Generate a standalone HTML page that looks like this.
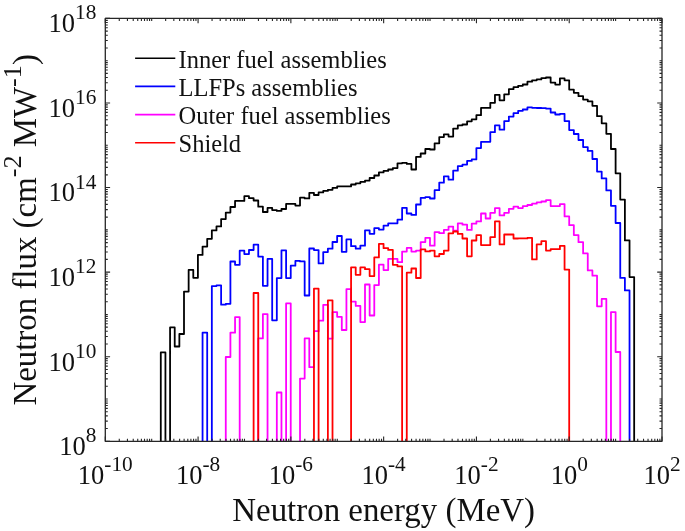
<!DOCTYPE html>
<html><head><meta charset="utf-8"><style>
html,body{margin:0;padding:0;background:#fff;width:685px;height:531px;overflow:hidden;font-family:"Liberation Serif",serif}
svg{display:block;will-change:transform}
</style></head><body>
<svg width="685" height="531" viewBox="0 0 685 531">
<rect width="685" height="531" fill="#fff"/>
<defs><clipPath id="c"><rect x="105.30" y="18.40" width="556.70" height="422.90"/></clipPath></defs>
<g clip-path="url(#c)" fill="none" stroke-width="1.80" stroke-linejoin="round" stroke-linecap="butt">
<path d="M160.79 450.00L160.79 352.40L165.43 352.40L165.43 450.00L170.07 450.00L170.07 327.40L174.72 327.40L174.72 346.50L179.36 346.50L179.36 334.00L184.00 334.00L184.00 291.60L188.64 291.60L188.64 269.90L193.28 269.90L193.28 277.80L197.92 277.80L197.92 254.90L202.56 254.90L202.56 246.60L207.20 246.60L207.20 238.80L211.84 238.80L211.84 230.40L216.48 230.40L216.48 226.40L221.13 226.40L221.13 219.10L225.77 219.10L225.77 212.60L230.41 212.60L230.41 207.00L235.05 207.00L235.05 200.90L239.69 200.90L239.69 200.90L244.33 200.90L244.33 196.20L248.97 196.20L248.97 198.20L253.61 198.20L253.61 200.50L258.25 200.50L258.25 206.70L262.89 206.70L262.89 212.00L267.54 212.00L267.54 207.90L272.18 207.90L272.18 210.10L276.82 210.10L276.82 210.90L281.46 210.90L281.46 209.00L286.10 209.00L286.10 203.90L290.74 203.90L290.74 203.90L295.38 203.90L295.38 205.60L300.02 205.60L300.02 197.70L304.66 197.70L304.66 198.40L309.30 198.40L309.30 192.80L313.95 192.80L313.95 195.00L318.59 195.00L318.59 192.40L323.23 192.40L323.23 190.90L327.87 190.90L327.87 189.80L332.51 189.80L332.51 187.90L337.15 187.90L337.15 186.40L341.79 186.40L341.79 186.40L346.43 186.40L346.43 186.40L351.07 186.40L351.07 184.50L355.71 184.50L355.71 183.30L360.36 183.30L360.36 181.90L365.00 181.90L365.00 180.60L369.64 180.60L369.64 178.00L374.28 178.00L374.28 175.50L378.92 175.50L378.92 172.40L383.56 172.40L383.56 170.90L388.20 170.90L388.20 169.50L392.84 169.50L392.84 168.10L397.48 168.10L397.48 163.30L402.12 163.30L402.12 162.80L406.77 162.80L406.77 163.90L411.41 163.90L411.41 169.50L416.05 169.50L416.05 156.90L420.69 156.90L420.69 153.50L425.33 153.50L425.33 149.00L429.97 149.00L429.97 149.50L434.61 149.50L434.61 143.30L439.25 143.30L439.25 137.10L443.89 137.10L443.89 134.30L448.53 134.30L448.53 136.60L453.18 136.60L453.18 128.60L457.82 128.60L457.82 125.30L462.46 125.30L462.46 124.50L467.10 124.50L467.10 121.30L471.74 121.30L471.74 119.30L476.38 119.30L476.38 115.20L481.02 115.20L481.02 107.90L485.66 107.90L485.66 107.90L490.30 107.90L490.30 102.80L494.94 102.80L494.94 94.90L499.59 94.90L499.59 100.30L504.23 100.30L504.23 94.30L508.87 94.30L508.87 89.20L513.51 89.20L513.51 87.20L518.15 87.20L518.15 85.80L522.79 85.80L522.79 84.50L527.43 84.50L527.43 81.70L532.07 81.70L532.07 80.30L536.71 80.30L536.71 79.40L541.35 79.40L541.35 78.10L546.00 78.10L546.00 77.50L550.64 77.50L550.64 82.60L555.28 82.60L555.28 84.60L559.92 84.60L559.92 78.30L564.56 78.30L564.56 80.30L569.20 80.30L569.20 89.60L573.84 89.60L573.84 92.80L578.48 92.80L578.48 96.20L583.12 96.20L583.12 99.60L587.76 99.60L587.76 101.30L592.41 101.30L592.41 105.80L597.05 105.80L597.05 116.20L601.69 116.20L601.69 123.30L606.33 123.30L606.33 133.80L610.97 133.80L610.97 149.00L615.61 149.00L615.61 173.30L620.25 173.30L620.25 199.60L624.89 199.60L624.89 240.40L629.53 240.40L629.53 277.10L634.17 277.10L634.17 450.00" stroke="#000000"/>
<path d="M202.56 450.00L202.56 332.70L207.20 332.70L207.20 450.00L211.84 450.00L211.84 286.10L216.48 286.10L216.48 285.40L221.13 285.40L221.13 304.70L225.77 304.70L225.77 303.80L230.41 303.80L230.41 261.50L235.05 261.50L235.05 264.80L239.69 264.80L239.69 250.70L244.33 250.70L244.33 254.10L248.97 254.10L248.97 250.00L253.61 250.00L253.61 244.70L258.25 244.70L258.25 256.60L262.89 256.60L262.89 285.80L267.54 285.80L267.54 258.90L272.18 258.90L272.18 320.30L276.82 320.30L276.82 278.10L281.46 278.10L281.46 250.40L286.10 250.40L286.10 278.10L290.74 278.10L290.74 265.70L295.38 265.70L295.38 260.90L300.02 260.90L300.02 261.40L304.66 261.40L304.66 295.50L309.30 295.50L309.30 248.50L313.95 248.50L313.95 250.10L318.59 250.10L318.59 263.40L323.23 263.40L323.23 252.10L327.87 252.10L327.87 248.70L332.51 248.70L332.51 242.00L337.15 242.00L337.15 236.00L341.79 236.00L341.79 251.80L346.43 251.80L346.43 239.40L351.07 239.40L351.07 246.20L355.71 246.20L355.71 248.70L360.36 248.70L360.36 245.70L365.00 245.70L365.00 230.30L369.64 230.30L369.64 233.80L374.28 233.80L374.28 228.20L378.92 228.20L378.92 229.60L383.56 229.60L383.56 225.60L388.20 225.60L388.20 223.30L392.84 223.30L392.84 223.30L397.48 223.30L397.48 219.70L402.12 219.70L402.12 207.80L406.77 207.80L406.77 213.50L411.41 213.50L411.41 214.90L416.05 214.90L416.05 204.50L420.69 204.50L420.69 197.80L425.33 197.80L425.33 197.20L429.97 197.20L429.97 198.50L434.61 198.50L434.61 190.20L439.25 190.20L439.25 182.70L443.89 182.70L443.89 176.40L448.53 176.40L448.53 179.70L453.18 179.70L453.18 170.70L457.82 170.70L457.82 166.10L462.46 166.10L462.46 164.60L467.10 164.60L467.10 160.90L471.74 160.90L471.74 159.40L476.38 159.40L476.38 148.10L481.02 148.10L481.02 141.80L485.66 141.80L485.66 141.80L490.30 141.80L490.30 132.20L494.94 132.20L494.94 125.40L499.59 125.40L499.59 129.70L504.23 129.70L504.23 121.10L508.87 121.10L508.87 116.60L513.51 116.60L513.51 113.20L518.15 113.20L518.15 110.80L522.79 110.80L522.79 109.50L527.43 109.50L527.43 107.30L532.07 107.30L532.07 107.80L536.71 107.80L536.71 108.00L541.35 108.00L541.35 108.20L546.00 108.20L546.00 108.60L550.64 108.60L550.64 112.50L555.28 112.50L555.28 114.50L559.92 114.50L559.92 113.80L564.56 113.80L564.56 121.10L569.20 121.10L569.20 130.10L573.84 130.10L573.84 134.00L578.48 134.00L578.48 140.00L583.12 140.00L583.12 147.10L587.76 147.10L587.76 150.90L592.41 150.90L592.41 159.00L597.05 159.00L597.05 171.60L601.69 171.60L601.69 178.40L606.33 178.40L606.33 190.40L610.97 190.40L610.97 205.80L615.61 205.80L615.61 223.00L620.25 223.00L620.25 277.90L624.89 277.90L624.89 290.40L629.53 290.40L629.53 450.00" stroke="#0000ff"/>
<path d="M225.77 450.00L225.77 357.00L230.41 357.00L230.41 332.70L235.05 332.70L235.05 317.10L239.69 317.10L239.69 450.00L244.33 450.00L244.33 450.00L248.97 450.00L248.97 450.00L253.61 450.00L253.61 450.00L258.25 450.00L258.25 338.40L262.89 338.40L262.89 314.10L267.54 314.10L267.54 450.00L272.18 450.00L272.18 450.00L276.82 450.00L276.82 392.50L281.46 392.50L281.46 450.00L286.10 450.00L286.10 303.40L290.74 303.40L290.74 450.00L295.38 450.00L295.38 450.00L300.02 450.00L300.02 378.60L304.66 378.60L304.66 338.40L309.30 338.40L309.30 367.20L313.95 367.20L313.95 331.20L318.59 331.20L318.59 320.70L323.23 320.70L323.23 304.80L327.87 304.80L327.87 338.70L332.51 338.70L332.51 312.20L337.15 312.20L337.15 316.80L341.79 316.80L341.79 330.00L346.43 330.00L346.43 289.10L351.07 289.10L351.07 301.60L355.71 301.60L355.71 305.90L360.36 305.90L360.36 322.10L365.00 322.10L365.00 284.50L369.64 284.50L369.64 315.50L374.28 315.50L374.28 285.10L378.92 285.10L378.92 264.70L383.56 264.70L383.56 270.10L388.20 270.10L388.20 258.90L392.84 258.90L392.84 258.90L397.48 258.90L397.48 262.20L402.12 262.20L402.12 251.60L406.77 251.60L406.77 247.90L411.41 247.90L411.41 251.60L416.05 251.60L416.05 250.60L420.69 250.60L420.69 242.10L425.33 242.10L425.33 237.80L429.97 237.80L429.97 245.70L434.61 245.70L434.61 232.10L439.25 232.10L439.25 233.20L443.89 233.20L443.89 229.90L448.53 229.90L448.53 226.60L453.18 226.60L453.18 230.60L457.82 230.60L457.82 223.30L462.46 223.30L462.46 224.70L467.10 224.70L467.10 229.90L471.74 229.90L471.74 223.70L476.38 223.70L476.38 221.40L481.02 221.40L481.02 213.50L485.66 213.50L485.66 218.50L490.30 218.50L490.30 212.80L494.94 212.80L494.94 208.20L499.59 208.20L499.59 215.40L504.23 215.40L504.23 212.80L508.87 212.80L508.87 208.80L513.51 208.80L513.51 206.70L518.15 206.70L518.15 208.10L522.79 208.10L522.79 206.10L527.43 206.10L527.43 205.00L532.07 205.00L532.07 203.70L536.71 203.70L536.71 202.40L541.35 202.40L541.35 201.50L546.00 201.50L546.00 200.20L550.64 200.20L550.64 206.10L555.28 206.10L555.28 206.10L559.92 206.10L559.92 204.10L564.56 204.10L564.56 216.40L569.20 216.40L569.20 225.20L573.84 225.20L573.84 235.10L578.48 235.10L578.48 242.20L583.12 242.20L583.12 253.40L587.76 253.40L587.76 270.40L592.41 270.40L592.41 275.70L597.05 275.70L597.05 306.30L601.69 306.30L601.69 298.90L606.33 298.90L606.33 450.00L610.97 450.00L610.97 312.10L615.61 312.10L615.61 352.00L620.25 352.00L620.25 450.00" stroke="#ff00ff"/>
<path d="M253.61 450.00L253.61 293.00L258.25 293.00L258.25 450.00L262.89 450.00L262.89 450.00L267.54 450.00L267.54 450.00L272.18 450.00L272.18 450.00L276.82 450.00L276.82 450.00L281.46 450.00L281.46 450.00L286.10 450.00L286.10 450.00L290.74 450.00L290.74 450.00L295.38 450.00L295.38 450.00L300.02 450.00L300.02 450.00L304.66 450.00L304.66 450.00L309.30 450.00L309.30 450.00L313.95 450.00L313.95 288.70L318.59 288.70L318.59 450.00L323.23 450.00L323.23 450.00L327.87 450.00L327.87 300.30L332.51 300.30L332.51 450.00L337.15 450.00L337.15 450.00L341.79 450.00L341.79 450.00L346.43 450.00L346.43 450.00L351.07 450.00L351.07 267.30L355.71 267.30L355.71 274.80L360.36 274.80L360.36 267.40L365.00 267.40L365.00 269.20L369.64 269.20L369.64 276.10L374.28 276.10L374.28 257.40L378.92 257.40L378.92 243.80L383.56 243.80L383.56 248.20L388.20 248.20L388.20 249.90L392.84 249.90L392.84 264.80L397.48 264.80L397.48 266.40L402.12 266.40L402.12 450.00L406.77 450.00L406.77 272.70L411.41 272.70L411.41 268.50L416.05 268.50L416.05 278.00L420.69 278.00L420.69 249.30L425.33 249.30L425.33 251.40L429.97 251.40L429.97 250.60L434.61 250.60L434.61 256.30L439.25 256.30L439.25 254.00L443.89 254.00L443.89 250.60L448.53 250.60L448.53 233.30L453.18 233.30L453.18 231.50L457.82 231.50L457.82 233.90L462.46 233.90L462.46 238.50L467.10 238.50L467.10 256.30L471.74 256.30L471.74 240.50L476.38 240.50L476.38 235.20L481.02 235.20L481.02 245.10L485.66 245.10L485.66 245.10L490.30 245.10L490.30 237.20L494.94 237.20L494.94 221.40L499.59 221.40L499.59 244.40L504.23 244.40L504.23 234.50L508.87 234.50L508.87 234.50L513.51 234.50L513.51 238.50L518.15 238.50L518.15 238.40L522.79 238.40L522.79 238.40L527.43 238.40L527.43 237.80L532.07 237.80L532.07 259.40L536.71 259.40L536.71 244.30L541.35 244.30L541.35 241.20L546.00 241.20L546.00 250.60L550.64 250.60L550.64 249.20L555.28 249.20L555.28 249.20L559.92 249.20L559.92 245.80L564.56 245.80L564.56 269.60L569.20 269.60L569.20 450.00" stroke="#ff0000"/>
</g>
<path d="M105.30 441.30V436.50M105.30 18.40V23.20M119.27 441.30V438.80M119.27 18.40V20.90M127.43 441.30V438.80M127.43 18.40V20.90M133.23 441.30V438.80M133.23 18.40V20.90M137.73 441.30V438.80M137.73 18.40V20.90M141.40 441.30V438.80M141.40 18.40V20.90M144.51 441.30V438.80M144.51 18.40V20.90M147.20 441.30V438.80M147.20 18.40V20.90M149.57 441.30V438.80M149.57 18.40V20.90M151.69 441.30V438.80M151.69 18.40V20.90M165.66 441.30V438.80M165.66 18.40V20.90M173.83 441.30V438.80M173.83 18.40V20.90M179.62 441.30V438.80M179.62 18.40V20.90M184.12 441.30V438.80M184.12 18.40V20.90M187.79 441.30V438.80M187.79 18.40V20.90M190.90 441.30V438.80M190.90 18.40V20.90M193.59 441.30V438.80M193.59 18.40V20.90M195.96 441.30V438.80M195.96 18.40V20.90M198.08 441.30V436.50M198.08 18.40V23.20M212.05 441.30V438.80M212.05 18.40V20.90M220.22 441.30V438.80M220.22 18.40V20.90M226.01 441.30V438.80M226.01 18.40V20.90M230.51 441.30V438.80M230.51 18.40V20.90M234.18 441.30V438.80M234.18 18.40V20.90M237.29 441.30V438.80M237.29 18.40V20.90M239.98 441.30V438.80M239.98 18.40V20.90M242.35 441.30V438.80M242.35 18.40V20.90M244.48 441.30V438.80M244.48 18.40V20.90M258.44 441.30V438.80M258.44 18.40V20.90M266.61 441.30V438.80M266.61 18.40V20.90M272.41 441.30V438.80M272.41 18.40V20.90M276.90 441.30V438.80M276.90 18.40V20.90M280.57 441.30V438.80M280.57 18.40V20.90M283.68 441.30V438.80M283.68 18.40V20.90M286.37 441.30V438.80M286.37 18.40V20.90M288.74 441.30V438.80M288.74 18.40V20.90M290.87 441.30V436.50M290.87 18.40V23.20M304.83 441.30V438.80M304.83 18.40V20.90M313.00 441.30V438.80M313.00 18.40V20.90M318.80 441.30V438.80M318.80 18.40V20.90M323.29 441.30V438.80M323.29 18.40V20.90M326.97 441.30V438.80M326.97 18.40V20.90M330.07 441.30V438.80M330.07 18.40V20.90M332.76 441.30V438.80M332.76 18.40V20.90M335.14 441.30V438.80M335.14 18.40V20.90M337.26 441.30V438.80M337.26 18.40V20.90M351.22 441.30V438.80M351.22 18.40V20.90M359.39 441.30V438.80M359.39 18.40V20.90M365.19 441.30V438.80M365.19 18.40V20.90M369.68 441.30V438.80M369.68 18.40V20.90M373.36 441.30V438.80M373.36 18.40V20.90M376.46 441.30V438.80M376.46 18.40V20.90M379.15 441.30V438.80M379.15 18.40V20.90M381.53 441.30V438.80M381.53 18.40V20.90M383.65 441.30V436.50M383.65 18.40V23.20M397.62 441.30V438.80M397.62 18.40V20.90M405.78 441.30V438.80M405.78 18.40V20.90M411.58 441.30V438.80M411.58 18.40V20.90M416.08 441.30V438.80M416.08 18.40V20.90M419.75 441.30V438.80M419.75 18.40V20.90M422.86 441.30V438.80M422.86 18.40V20.90M425.55 441.30V438.80M425.55 18.40V20.90M427.92 441.30V438.80M427.92 18.40V20.90M430.04 441.30V438.80M430.04 18.40V20.90M444.01 441.30V438.80M444.01 18.40V20.90M452.18 441.30V438.80M452.18 18.40V20.90M457.97 441.30V438.80M457.97 18.40V20.90M462.47 441.30V438.80M462.47 18.40V20.90M466.14 441.30V438.80M466.14 18.40V20.90M469.25 441.30V438.80M469.25 18.40V20.90M471.94 441.30V438.80M471.94 18.40V20.90M474.31 441.30V438.80M474.31 18.40V20.90M476.43 441.30V436.50M476.43 18.40V23.20M490.40 441.30V438.80M490.40 18.40V20.90M498.57 441.30V438.80M498.57 18.40V20.90M504.36 441.30V438.80M504.36 18.40V20.90M508.86 441.30V438.80M508.86 18.40V20.90M512.53 441.30V438.80M512.53 18.40V20.90M515.64 441.30V438.80M515.64 18.40V20.90M518.33 441.30V438.80M518.33 18.40V20.90M520.70 441.30V438.80M520.70 18.40V20.90M522.83 441.30V438.80M522.83 18.40V20.90M536.79 441.30V438.80M536.79 18.40V20.90M544.96 441.30V438.80M544.96 18.40V20.90M550.76 441.30V438.80M550.76 18.40V20.90M555.25 441.30V438.80M555.25 18.40V20.90M558.92 441.30V438.80M558.92 18.40V20.90M562.03 441.30V438.80M562.03 18.40V20.90M564.72 441.30V438.80M564.72 18.40V20.90M567.09 441.30V438.80M567.09 18.40V20.90M569.22 441.30V436.50M569.22 18.40V23.20M583.18 441.30V438.80M583.18 18.40V20.90M591.35 441.30V438.80M591.35 18.40V20.90M597.15 441.30V438.80M597.15 18.40V20.90M601.64 441.30V438.80M601.64 18.40V20.90M605.32 441.30V438.80M605.32 18.40V20.90M608.42 441.30V438.80M608.42 18.40V20.90M611.11 441.30V438.80M611.11 18.40V20.90M613.49 441.30V438.80M613.49 18.40V20.90M615.61 441.30V438.80M615.61 18.40V20.90M629.57 441.30V438.80M629.57 18.40V20.90M637.74 441.30V438.80M637.74 18.40V20.90M643.54 441.30V438.80M643.54 18.40V20.90M648.03 441.30V438.80M648.03 18.40V20.90M651.71 441.30V438.80M651.71 18.40V20.90M654.81 441.30V438.80M654.81 18.40V20.90M657.50 441.30V438.80M657.50 18.40V20.90M659.88 441.30V438.80M659.88 18.40V20.90M662.00 441.30V436.50M662.00 18.40V23.20M105.30 441.30H110.10M662.00 441.30H657.20M105.30 428.57H107.80M662.00 428.57H659.50M105.30 421.12H107.80M662.00 421.12H659.50M105.30 415.84H107.80M662.00 415.84H659.50M105.30 411.74H107.80M662.00 411.74H659.50M105.30 408.39H107.80M662.00 408.39H659.50M105.30 405.56H107.80M662.00 405.56H659.50M105.30 403.11H107.80M662.00 403.11H659.50M105.30 400.95H107.80M662.00 400.95H659.50M105.30 399.01H107.80M662.00 399.01H659.50M105.30 386.28H107.80M662.00 386.28H659.50M105.30 378.83H107.80M662.00 378.83H659.50M105.30 373.55H107.80M662.00 373.55H659.50M105.30 369.45H107.80M662.00 369.45H659.50M105.30 366.10H107.80M662.00 366.10H659.50M105.30 363.27H107.80M662.00 363.27H659.50M105.30 360.82H107.80M662.00 360.82H659.50M105.30 358.66H107.80M662.00 358.66H659.50M105.30 356.72H110.10M662.00 356.72H657.20M105.30 343.99H107.80M662.00 343.99H659.50M105.30 336.54H107.80M662.00 336.54H659.50M105.30 331.26H107.80M662.00 331.26H659.50M105.30 327.16H107.80M662.00 327.16H659.50M105.30 323.81H107.80M662.00 323.81H659.50M105.30 320.98H107.80M662.00 320.98H659.50M105.30 318.53H107.80M662.00 318.53H659.50M105.30 316.37H107.80M662.00 316.37H659.50M105.30 314.43H107.80M662.00 314.43H659.50M105.30 301.70H107.80M662.00 301.70H659.50M105.30 294.25H107.80M662.00 294.25H659.50M105.30 288.97H107.80M662.00 288.97H659.50M105.30 284.87H107.80M662.00 284.87H659.50M105.30 281.52H107.80M662.00 281.52H659.50M105.30 278.69H107.80M662.00 278.69H659.50M105.30 276.24H107.80M662.00 276.24H659.50M105.30 274.08H107.80M662.00 274.08H659.50M105.30 272.14H110.10M662.00 272.14H657.20M105.30 259.41H107.80M662.00 259.41H659.50M105.30 251.96H107.80M662.00 251.96H659.50M105.30 246.68H107.80M662.00 246.68H659.50M105.30 242.58H107.80M662.00 242.58H659.50M105.30 239.23H107.80M662.00 239.23H659.50M105.30 236.40H107.80M662.00 236.40H659.50M105.30 233.95H107.80M662.00 233.95H659.50M105.30 231.79H107.80M662.00 231.79H659.50M105.30 229.85H107.80M662.00 229.85H659.50M105.30 217.12H107.80M662.00 217.12H659.50M105.30 209.67H107.80M662.00 209.67H659.50M105.30 204.39H107.80M662.00 204.39H659.50M105.30 200.29H107.80M662.00 200.29H659.50M105.30 196.94H107.80M662.00 196.94H659.50M105.30 194.11H107.80M662.00 194.11H659.50M105.30 191.66H107.80M662.00 191.66H659.50M105.30 189.50H107.80M662.00 189.50H659.50M105.30 187.56H110.10M662.00 187.56H657.20M105.30 174.83H107.80M662.00 174.83H659.50M105.30 167.38H107.80M662.00 167.38H659.50M105.30 162.10H107.80M662.00 162.10H659.50M105.30 158.00H107.80M662.00 158.00H659.50M105.30 154.65H107.80M662.00 154.65H659.50M105.30 151.82H107.80M662.00 151.82H659.50M105.30 149.37H107.80M662.00 149.37H659.50M105.30 147.21H107.80M662.00 147.21H659.50M105.30 145.27H107.80M662.00 145.27H659.50M105.30 132.54H107.80M662.00 132.54H659.50M105.30 125.09H107.80M662.00 125.09H659.50M105.30 119.81H107.80M662.00 119.81H659.50M105.30 115.71H107.80M662.00 115.71H659.50M105.30 112.36H107.80M662.00 112.36H659.50M105.30 109.53H107.80M662.00 109.53H659.50M105.30 107.08H107.80M662.00 107.08H659.50M105.30 104.92H107.80M662.00 104.92H659.50M105.30 102.98H110.10M662.00 102.98H657.20M105.30 90.25H107.80M662.00 90.25H659.50M105.30 82.80H107.80M662.00 82.80H659.50M105.30 77.52H107.80M662.00 77.52H659.50M105.30 73.42H107.80M662.00 73.42H659.50M105.30 70.07H107.80M662.00 70.07H659.50M105.30 67.24H107.80M662.00 67.24H659.50M105.30 64.79H107.80M662.00 64.79H659.50M105.30 62.63H107.80M662.00 62.63H659.50M105.30 60.69H107.80M662.00 60.69H659.50M105.30 47.96H107.80M662.00 47.96H659.50M105.30 40.51H107.80M662.00 40.51H659.50M105.30 35.23H107.80M662.00 35.23H659.50M105.30 31.13H107.80M662.00 31.13H659.50M105.30 27.78H107.80M662.00 27.78H659.50M105.30 24.95H107.80M662.00 24.95H659.50M105.30 22.50H107.80M662.00 22.50H659.50M105.30 20.34H107.80M662.00 20.34H659.50M105.30 18.40H110.10M662.00 18.40H657.20" stroke="#262626" stroke-width="1.1" fill="none"/>
<rect x="105.30" y="18.40" width="556.70" height="422.90" fill="none" stroke="#262626" stroke-width="1.3" stroke-linejoin="round"/>
<g style="font-family:'Liberation Serif', serif" fill="#111">
<text x="96.3" y="455.10" text-anchor="end" font-size="26.5">10<tspan font-size="21.3" dy="-12.8">8</tspan></text>
<text x="96.3" y="370.52" text-anchor="end" font-size="26.5">10<tspan font-size="21.3" dy="-12.8">10</tspan></text>
<text x="96.3" y="285.94" text-anchor="end" font-size="26.5">10<tspan font-size="21.3" dy="-12.8">12</tspan></text>
<text x="96.3" y="201.36" text-anchor="end" font-size="26.5">10<tspan font-size="21.3" dy="-12.8">14</tspan></text>
<text x="96.3" y="116.78" text-anchor="end" font-size="26.5">10<tspan font-size="21.3" dy="-12.8">16</tspan></text>
<text x="96.3" y="32.20" text-anchor="end" font-size="26.5">10<tspan font-size="21.3" dy="-12.8">18</tspan></text>
<text x="105.30" y="483.6" text-anchor="middle" font-size="26.5">10<tspan font-size="21.3" dy="-12.8">-10</tspan></text>
<text x="198.08" y="483.6" text-anchor="middle" font-size="26.5">10<tspan font-size="21.3" dy="-12.8">-8</tspan></text>
<text x="290.87" y="483.6" text-anchor="middle" font-size="26.5">10<tspan font-size="21.3" dy="-12.8">-6</tspan></text>
<text x="383.65" y="483.6" text-anchor="middle" font-size="26.5">10<tspan font-size="21.3" dy="-12.8">-4</tspan></text>
<text x="476.43" y="483.6" text-anchor="middle" font-size="26.5">10<tspan font-size="21.3" dy="-12.8">-2</tspan></text>
<text x="569.22" y="483.6" text-anchor="middle" font-size="26.5">10<tspan font-size="21.3" dy="-12.8">0</tspan></text>
<text x="662.00" y="483.6" text-anchor="middle" font-size="26.5">10<tspan font-size="21.3" dy="-12.8">2</tspan></text>
<text x="383.65" y="521" text-anchor="middle" font-size="32.9">Neutron energy (MeV)</text>
<text transform="translate(36.2 229.85) rotate(-90)" x="0" y="0" text-anchor="middle" font-size="32.9">Neutron flux (cm<tspan font-size="26.2" dy="-15.6">-2</tspan><tspan dy="15.6"> MW</tspan><tspan font-size="26.2" dy="-15.6">-1</tspan><tspan dy="15.6">)</tspan></text>
<line x1="135.1" y1="58.20" x2="175.3" y2="58.20" stroke="#000000" stroke-width="1.6"/>
<text x="178.5" y="67.70" font-size="24.5">Inner fuel assemblies</text>
<line x1="135.1" y1="86.40" x2="175.3" y2="86.40" stroke="#0000ff" stroke-width="1.6"/>
<text x="178.5" y="95.90" font-size="24.5">LLFPs assemblies</text>
<line x1="135.1" y1="114.60" x2="175.3" y2="114.60" stroke="#ff00ff" stroke-width="1.6"/>
<text x="178.5" y="124.10" font-size="24.5">Outer fuel assemblies</text>
<line x1="135.1" y1="142.80" x2="175.3" y2="142.80" stroke="#ff0000" stroke-width="1.6"/>
<text x="178.5" y="152.30" font-size="24.5">Shield</text>
</g>
</svg>
</body></html>
